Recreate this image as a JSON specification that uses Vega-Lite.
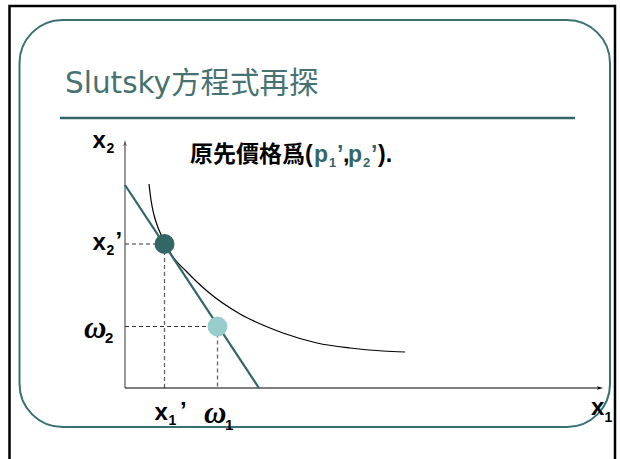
{
  "$schema": "https://vega.github.io/schema/vega-lite/v6.json",
  "width": 620,
  "height": 459,
  "autosize": {"type": "none"},
  "padding": 0,
  "background": "white",
  "config": {"view": {"stroke": null}},
  "datasets": {
    "frames": [
      {"kind": "outer", "x": -11.55, "x2": 49.0, "y": 38.2, "y2": -9.5},
      {"kind": "inner", "x": -10.55, "x2": 48.5, "y": 36.8, "y2": -3.9}
    ],
    "segments": [
      {"kind": "titleline", "x": -6.5, "x2": 45.0, "y": 27.0, "y2": 27.0},
      {"kind": "yaxis", "x": 0, "x2": 0, "y": 0, "y2": 24.4},
      {"kind": "xaxis", "x": 0, "x2": 47.3, "y": 0, "y2": 0},
      {"kind": "dashH", "x": 0, "x2": 3.95, "y": 14.4, "y2": 14.4},
      {"kind": "dashV", "x": 3.95, "x2": 3.95, "y": 14.4, "y2": 0},
      {"kind": "dashH", "x": 0, "x2": 9.25, "y": 6.15, "y2": 6.15},
      {"kind": "dashV", "x": 9.25, "x2": 9.25, "y": 6.15, "y2": 0},
      {"kind": "budget", "x": 0, "x2": 13.4, "y": 20.3, "y2": 0}
    ],
    "arrows": [
      {"dir": "up", "x": 0, "y": 24.5},
      {"dir": "right", "x": 47.5, "y": 0}
    ],
    "curve": [
      {"x": 2.4, "y": 20.4},
      {"x": 2.6, "y": 18.8},
      {"x": 2.9, "y": 17.3},
      {"x": 3.4, "y": 15.8},
      {"x": 4.1, "y": 14.3},
      {"x": 4.8, "y": 13.1},
      {"x": 6.0, "y": 11.8},
      {"x": 8.2, "y": 9.7},
      {"x": 11.5, "y": 7.4},
      {"x": 14.5, "y": 6.0},
      {"x": 15.8, "y": 5.5},
      {"x": 19.2, "y": 4.5},
      {"x": 22.5, "y": 4.0},
      {"x": 25.8, "y": 3.7},
      {"x": 28.0, "y": 3.6}
    ],
    "dots": [
      {"name": "original", "x": 3.95, "y": 14.4},
      {"name": "endowment", "x": 9.25, "y": 6.15}
    ],
    "texts": [
      {"role": "title", "t": "Slutsky方程式再探", "x": -6.0, "y": 29.5},
      {"role": "lab", "t": "x", "x": -3.25, "y": 24.0},
      {"role": "sub", "t": "2", "x": -1.85, "y": 23.5},
      {"role": "lab", "t": "x", "x": -3.25, "y": 13.8},
      {"role": "sub", "t": "2", "x": -1.85, "y": 13.3},
      {"role": "lab", "t": "’", "x": -0.95, "y": 13.9},
      {"role": "omega", "t": "ω", "x": -4.1, "y": 5.0},
      {"role": "osub", "t": "2", "x": -2.0, "y": 4.5},
      {"role": "lab", "t": "x", "x": 2.95, "y": -3.2},
      {"role": "sub", "t": "1", "x": 4.35, "y": -3.7},
      {"role": "lab", "t": "’", "x": 5.5, "y": -3.1},
      {"role": "omega", "t": "ω", "x": 7.9, "y": -3.5},
      {"role": "osub", "t": "1", "x": 10.0, "y": -4.2},
      {"role": "lab", "t": "x", "x": 46.6, "y": -2.7},
      {"role": "sub", "t": "1", "x": 47.95, "y": -3.4},
      {"role": "txt", "t": "原先價格爲(", "x": 6.5, "y": 22.6},
      {"role": "txtT", "t": "p", "x": 18.9, "y": 22.6},
      {"role": "txtTS", "t": "1", "x": 20.4, "y": 22.1},
      {"role": "txtT", "t": "’", "x": 21.2, "y": 22.6},
      {"role": "txt", "t": ",", "x": 21.8, "y": 22.6},
      {"role": "txtT", "t": "p", "x": 22.3, "y": 22.6},
      {"role": "txtTS", "t": "2", "x": 23.8, "y": 22.1},
      {"role": "txtT", "t": "’", "x": 24.6, "y": 22.6},
      {"role": "txt", "t": ").", "x": 25.3, "y": 22.6}
    ]
  },
  "encoding": {
    "x": {"field": "x", "type": "quantitative", "scale": {"domain": [-12.5, 49.5], "nice": false, "zero": false}, "axis": null},
    "y": {"field": "y", "type": "quantitative", "scale": {"domain": [-7.1, 38.8], "nice": false, "zero": false}, "axis": null}
  },
  "layer": [
    {
      "data": {"name": "frames"},
      "transform": [{"filter": "datum.kind == 'outer'"}],
      "mark": {"type": "rect", "fill": "transparent", "stroke": "#000000", "strokeWidth": 2.5, "clip": false},
      "encoding": {"x2": {"field": "x2"}, "y2": {"field": "y2"}}
    },
    {
      "data": {"name": "frames"},
      "transform": [{"filter": "datum.kind == 'inner'"}],
      "mark": {"type": "rect", "fill": "transparent", "stroke": "#3b7070", "strokeWidth": 2, "cornerRadius": 43},
      "encoding": {"x2": {"field": "x2"}, "y2": {"field": "y2"}}
    },
    {
      "data": {"name": "segments"},
      "transform": [{"filter": "datum.kind == 'titleline'"}],
      "mark": {"type": "rule", "stroke": "#336666", "strokeWidth": 2.5},
      "encoding": {"x2": {"field": "x2"}, "y2": {"field": "y2"}}
    },
    {
      "data": {"name": "segments"},
      "transform": [{"filter": "datum.kind == 'dashH'"}],
      "mark": {"type": "rule", "stroke": "#333333", "strokeWidth": 1.1, "strokeDash": [4, 3]},
      "encoding": {"x2": {"field": "x2"}, "y2": {"field": "y2"}}
    },
    {
      "data": {"name": "segments"},
      "transform": [{"filter": "datum.kind == 'dashV'"}],
      "mark": {"type": "rule", "stroke": "#666666", "strokeWidth": 1.3, "strokeDash": [4, 3]},
      "encoding": {"x2": {"field": "x2"}, "y2": {"field": "y2"}}
    },
    {
      "data": {"name": "segments"},
      "transform": [{"filter": "datum.kind == 'yaxis'"}],
      "mark": {"type": "rule", "stroke": "#555555", "strokeWidth": 1.2},
      "encoding": {"x2": {"field": "x2"}, "y2": {"field": "y2"}}
    },
    {
      "data": {"name": "segments"},
      "transform": [{"filter": "datum.kind == 'xaxis'"}],
      "mark": {"type": "rule", "stroke": "#000000", "strokeWidth": 1.2},
      "encoding": {"x2": {"field": "x2"}, "y2": {"field": "y2"}}
    },
    {
      "data": {"name": "arrows"},
      "transform": [{"filter": "datum.dir == 'up'"}],
      "mark": {"type": "point", "shape": "M0,-1L0.55,1L0,0.55L-0.55,1Z", "filled": true, "color": "#555555", "size": 40, "opacity": 1},
      "encoding": {}
    },
    {
      "data": {"name": "arrows"},
      "transform": [{"filter": "datum.dir == 'right'"}],
      "mark": {"type": "point", "shape": "M1,0L-1,0.55L-0.55,0L-1,-0.55Z", "filled": true, "color": "#000000", "size": 40, "opacity": 1},
      "encoding": {}
    },
    {
      "data": {"name": "curve"},
      "mark": {"type": "line", "color": "#000000", "strokeWidth": 1.2, "interpolate": "monotone"},
      "encoding": {}
    },
    {
      "data": {"name": "segments"},
      "transform": [{"filter": "datum.kind == 'budget'"}],
      "mark": {"type": "rule", "stroke": "#336666", "strokeWidth": 2.2},
      "encoding": {"x2": {"field": "x2"}, "y2": {"field": "y2"}}
    },
    {
      "data": {"name": "dots"},
      "mark": {"type": "circle", "size": 400, "opacity": 1},
      "encoding": {
        "color": {"field": "name", "type": "nominal", "scale": {"domain": ["original", "endowment"], "range": ["#336666", "#99cccc"]}, "legend": null}
      }
    },
    {
      "data": {"name": "texts"},
      "transform": [{"filter": "datum.role == 'title'"}],
      "mark": {"type": "text", "align": "left", "baseline": "alphabetic", "font": "DejaVu Sans, Noto Sans CJK TC", "fontSize": 29.5, "color": "#467272"},
      "encoding": {"text": {"field": "t"}}
    },
    {
      "data": {"name": "texts"},
      "transform": [{"filter": "datum.role == 'lab'"}],
      "mark": {"type": "text", "align": "left", "baseline": "alphabetic", "font": "Liberation Sans", "fontWeight": "bold", "fontSize": 24, "color": "#000000"},
      "encoding": {"text": {"field": "t"}}
    },
    {
      "data": {"name": "texts"},
      "transform": [{"filter": "datum.role == 'sub'"}],
      "mark": {"type": "text", "align": "left", "baseline": "alphabetic", "font": "Liberation Sans", "fontWeight": "bold", "fontSize": 14, "color": "#000000"},
      "encoding": {"text": {"field": "t"}}
    },
    {
      "data": {"name": "texts"},
      "transform": [{"filter": "datum.role == 'omega'"}],
      "mark": {"type": "text", "align": "left", "baseline": "alphabetic", "font": "Liberation Serif", "fontStyle": "italic", "fontWeight": "bold", "fontSize": 31, "color": "#000000"},
      "encoding": {"text": {"field": "t"}}
    },
    {
      "data": {"name": "texts"},
      "transform": [{"filter": "datum.role == 'osub'"}],
      "mark": {"type": "text", "align": "left", "baseline": "alphabetic", "font": "Liberation Sans", "fontWeight": "bold", "fontSize": 15, "color": "#000000"},
      "encoding": {"text": {"field": "t"}}
    },
    {
      "data": {"name": "texts"},
      "transform": [{"filter": "datum.role == 'txt'"}],
      "mark": {"type": "text", "align": "left", "baseline": "alphabetic", "font": "Liberation Sans, Noto Sans CJK TC", "fontWeight": "bold", "fontSize": 23, "color": "#000000"},
      "encoding": {"text": {"field": "t"}}
    },
    {
      "data": {"name": "texts"},
      "transform": [{"filter": "datum.role == 'txtT'"}],
      "mark": {"type": "text", "align": "left", "baseline": "alphabetic", "font": "Liberation Sans", "fontWeight": "bold", "fontSize": 23, "color": "#336666"},
      "encoding": {"text": {"field": "t"}}
    },
    {
      "data": {"name": "texts"},
      "transform": [{"filter": "datum.role == 'txtTS'"}],
      "mark": {"type": "text", "align": "left", "baseline": "alphabetic", "font": "Liberation Sans", "fontWeight": "bold", "fontSize": 13, "color": "#336666"},
      "encoding": {"text": {"field": "t"}}
    }
  ]
}
